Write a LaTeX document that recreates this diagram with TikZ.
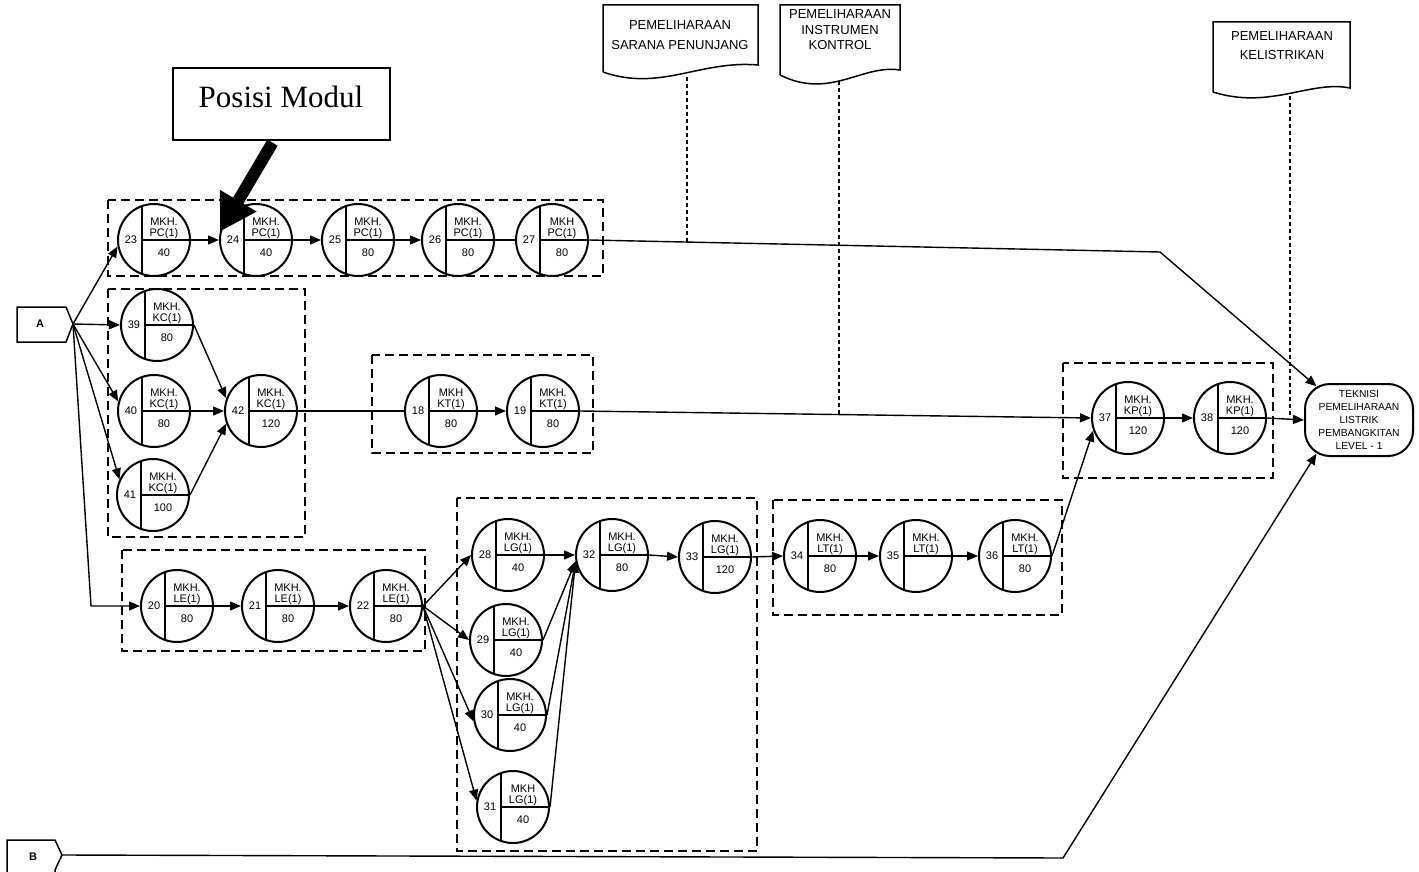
\documentclass[tikz,border=0pt]{standalone}
\usepackage{fontspec}
\setmainfont{Liberation Sans}
\newfontfamily\seriffont{Liberation Serif}
\usetikzlibrary{arrows.meta,calc}

\tikzset{
 act/.style={circle, draw, line width=2pt, minimum size=72pt, inner sep=0pt},
 inl/.style={line width=1.6pt},
 ctext/.style={font=\fontsize{11}{12}\selectfont, inner sep=0pt},
 conn/.style={line width=1.4pt, -{Triangle[length=11pt,width=9pt]}},
 plainl/.style={line width=1.4pt},
 grp/.style={line width=1.3pt, dash pattern=on 9pt off 5pt},
 dotl/.style={line width=1.3pt, dash pattern=on 4pt off 3pt},
 docl/.style={line width=1.5pt},
 doctext/.style={align=center, inner sep=0pt},
 lettr/.style={font=\bfseries\fontsize{11}{12}\selectfont, inner sep=0pt},
}

\newcommand{\actv}[7]{%
 \node[act] (#1) at (#2,#3) {};
 \draw[inl] ($(#1.center)+(-12,-33.9)$) -- ($(#1.center)+(-12,33.9)$);
 \draw[inl] ($(#1.center)+(-12,0)$) -- (#1.east);
 \node[ctext] (#1n) at ($(#1.center)+(-23,0)$) {#4};
 \node[ctext] (#1a) at ($(#1.center)+(10,-18)$) {#5};
 \node[ctext] (#1b) at ($(#1.center)+(10,-6)$) {#6};
 \node[ctext] (#1c) at ($(#1.center)+(10,13)$) {#7};
}

\begin{document}
\begin{tikzpicture}[x=1pt,y=-1pt]
\useasboundingbox (0,0) rectangle (1419,872);

% group boxes
\draw[grp] (108,200) rectangle (603,276);
\draw[grp] (108,289) rectangle (305,537);
\draw[grp] (372,355) rectangle (593,453);
\draw[grp] (1063,363) rectangle (1273,478);
\draw[grp] (122,550) rectangle (425,651);
\draw[grp] (457,498) rectangle (757,851);
\draw[grp] (773,500) rectangle (1062,615);

% activity nodes
\actv{n23}{154}{240}{23}{MKH.}{PC(1)}{40}
\actv{n24}{256}{240}{24}{MKH.}{PC(1)}{40}
\actv{n25}{358}{240}{25}{MKH.}{PC(1)}{80}
\actv{n26}{458}{240}{26}{MKH.}{PC(1)}{80}
\actv{n27}{552}{240}{27}{MKH}{PC(1)}{80}
\actv{n39}{157}{325}{39}{MKH.}{KC(1)}{80}
\actv{n40}{154}{411}{40}{MKH.}{KC(1)}{80}
\actv{n41}{153}{495}{41}{MKH.}{KC(1)}{100}
\actv{n42}{261}{411}{42}{MKH.}{KC(1)}{120}
\actv{n18}{441}{411}{18}{MKH}{KT(1)}{80}
\actv{n19}{543}{411}{19}{MKH.}{KT(1)}{80}
\actv{n37}{1128}{418}{37}{MKH.}{KP(1)}{120}
\actv{n38}{1230}{418}{38}{MKH.}{KP(1)}{120}
\actv{n20}{177}{606}{20}{MKH.}{LE(1)}{80}
\actv{n21}{278}{606}{21}{MKH.}{LE(1)}{80}
\actv{n22}{386}{606}{22}{MKH.}{LE(1)}{80}
\actv{n28}{508}{555}{28}{MKH.}{LG(1)}{40}
\actv{n29}{506}{640}{29}{MKH.}{LG(1)}{40}
\actv{n30}{510}{715}{30}{MKH.}{LG(1)}{40}
\actv{n31}{513}{807}{31}{MKH}{LG(1)}{40}
\actv{n32}{612}{555}{32}{MKH.}{LG(1)}{80}
\actv{n33}{715}{557}{33}{MKH.}{LG(1)}{120}
\actv{n34}{820}{556}{34}{MKH.}{LT(1)}{80}
\actv{n35}{916}{556}{35}{MKH.}{LT(1)}{}
\actv{n36}{1015}{556}{36}{MKH.}{LT(1)}{80}

% target node
\node[draw, line width=2pt, rounded corners=25pt, minimum width=108pt, minimum height=72pt,
      align=center, inner sep=0pt, font=\fontsize{10.3}{13}\selectfont] (T) at (1359,420)
      {TEKNISI\\PEMELIHARAAN\\LISTRIK\\PEMBANGKITAN\\LEVEL - 1};

% A and B terminals
\draw[docl] (17,307) -- (66,307) -- (73,324) -- (66,342) -- (17,342) -- cycle;
\node[lettr] (A) at (40,324) {A};
\coordinate (Atip) at (73,324);
\draw[docl] (7,880) -- (7,840) -- (55,840) -- (62,855) -- (55,870) -- (55,880);
\node[lettr] (B) at (33,857) {B};
\coordinate (Btip) at (62,855);

% documents
\draw[docl] (603,72) -- (603,5) -- (758,5) -- (758,65) .. controls (700,60) and (660,92) .. (603,72);
\node[doctext, font=\fontsize{13}{19.5}\selectfont] (tS) at (680,35) {PEMELIHARAAN\\SARANA PENUNJANG};
\coordinate (dS) at (687,77);
\draw[docl] (780,75) -- (780,5) -- (900,5) -- (900,70) .. controls (862,64) and (830,100) .. (780,75);
\node[doctext, font=\fontsize{13}{15.5}\selectfont] (tI) at (840,30) {PEMELIHARAAN\\INSTRUMEN\\KONTROL};
\coordinate (dI) at (839,81);
\draw[docl] (1213,92) -- (1213,22) -- (1350,22) -- (1350,88) .. controls (1310,80) and (1270,110) .. (1213,92);
\node[doctext, font=\fontsize{13}{19}\selectfont] (tK) at (1282,46) {PEMELIHARAAN\\KELISTRIKAN};
\coordinate (dK) at (1290,96);

% Posisi Modul
\node[draw, line width=1.3pt, minimum width=217pt, minimum height=72pt] (pm) at (281.5,104) {};
\node[font=\seriffont\fontsize{31}{33}\selectfont, inner sep=0pt] (pmt) at (281,97) {Posisi Modul};
\draw[line width=12pt, -{Triangle[length=36pt,width=40pt]}] ($(pm.south)+(-9,2)$) -- (n24.167);

% connectors from A
\coordinate (a20) at (91,606);
\draw[conn] (Atip) -- (n23.190);
\draw[conn] (Atip) -- (n39.west);
\draw[conn] (Atip) -- (n40.165);
\draw[conn] (Atip) -- (n41.155);
\draw[conn] (Atip) -- (a20) -- (n20.west);

% PC row
\draw[conn] (n23.east) -- (n24.west);
\draw[conn] (n24.east) -- (n25.west);
\draw[conn] (n25.east) -- (n26.west);
\draw[plainl] (n26.east) -- (n27.west);
\coordinate (c27) at (1160,252);
\draw[conn] (n27.east) -- (c27) -- ($(T.north west)+(12.5,3.3)$);

% KC group
\draw[conn] (n39.east) -- (n42.160);
\draw[conn] (n40.east) -- (n42.west);
\draw[conn] (n41.east) -- (n42.200);
\draw[plainl] (n42.east) -- (n18.west);
\draw[conn] (n18.east) -- (n19.west);
\draw[conn] (n19.east) -- (n37.west);
\draw[conn] (n37.east) -- (n38.west);
\draw[conn] (n38.east) -- (T.west);

% LE / LG / LT
\draw[conn] (n20.east) -- (n21.west);
\draw[conn] (n21.east) -- (n22.west);
\draw[conn] (n22.east) -- (n28.west);
\draw[conn] (n22.east) -- (n29.west);
\draw[conn] (n22.east) -- (n30.190);
\draw[conn] (n22.east) -- (n31.170);
\draw[conn] (n28.east) -- (n32.west);
\draw[conn] (n29.east) -- (n32.190);
\draw[conn] (n30.east) -- (n32.190);
\draw[conn] (n31.east) -- (n32.190);
\draw[conn] (n32.east) -- (n33.west);
\draw[conn] (n33.east) -- (n34.west);
\draw[conn] (n34.east) -- (n35.west);
\draw[conn] (n35.east) -- (n36.west);
\draw[conn] (n36.east) -- (n37.200);

% B line
\coordinate (cB) at (1063,858);
\draw[conn] (Btip) -- (cB) -- ($(T.south west)+(12.5,-3.3)$);

% dotted links from documents
\coordinate (jS) at (687,242);
\coordinate (jI) at (839,414);
\coordinate (jK) at (1290,418);
\draw[dotl] (dS) -- (jS);
\draw[dotl] (dI) -- (jI);
\draw[dotl] (dK) -- (jK);
\end{tikzpicture}
\end{document}
